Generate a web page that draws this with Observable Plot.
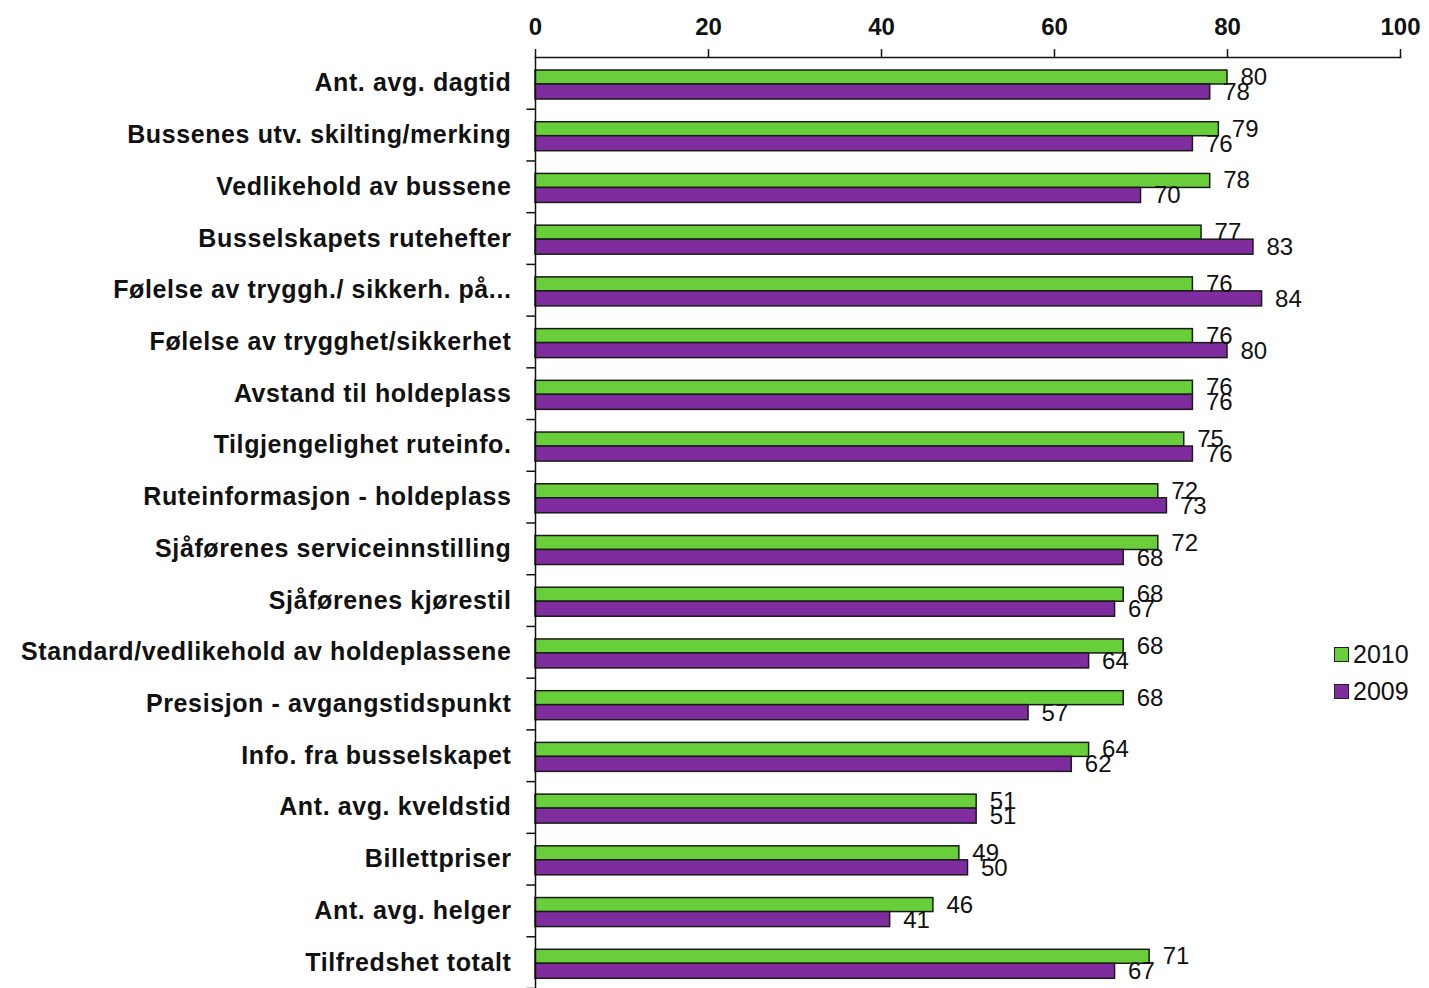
<!DOCTYPE html>
<html>
<head>
<meta charset="utf-8">
<script src="https://cdn.jsdelivr.net/npm/d3@7"></script>
<script src="https://cdn.jsdelivr.net/npm/@observablehq/plot@0.6"></script>
<style>
  html, body { margin: 0; padding: 0; background: #fff; }
  #wrap { position: relative; width: 1429px; height: 988px; overflow: hidden; }
  .legend { position: absolute; left: 1334px; font-family: "Liberation Sans", Arial, sans-serif; font-size: 25px; color: #111; display: flex; align-items: center; }
  .legend .sw { width: 13px; height: 13px; border: 1.5px solid #222; margin-right: 4px; }
</style>
</head>
<body>
<div id="wrap"></div>
<script>
const categories = [
  "Ant. avg. dagtid",
  "Bussenes utv. skilting/merking",
  "Vedlikehold av bussene",
  "Busselskapets rutehefter",
  "Følelse av tryggh./ sikkerh. på...",
  "Følelse av trygghet/sikkerhet",
  "Avstand til holdeplass",
  "Tilgjengelighet ruteinfo.",
  "Ruteinformasjon - holdeplass",
  "Sjåførenes serviceinnstilling",
  "Sjåførenes kjørestil",
  "Standard/vedlikehold av holdeplassene",
  "Presisjon - avgangstidspunkt",
  "Info. fra busselskapet",
  "Ant. avg. kveldstid",
  "Billettpriser",
  "Ant. avg. helger",
  "Tilfredshet totalt"
];
const values2010 = [80, 79, 78, 77, 76, 76, 76, 75, 72, 72, 68, 68, 68, 64, 51, 49, 46, 71];
const values2009 = [78, 76, 70, 83, 84, 80, 76, 76, 73, 68, 67, 64, 57, 62, 51, 50, 41, 67];
const seriesNames = ["2010", "2009"];
const xTicks = [0, 20, 40, 60, 80, 100];

const green = "#68cf3a";
const purple = "#7f2d9e";

const d2010 = categories.map((c, i) => ({cat: c, v: values2010[i]}));
const d2009 = categories.map((c, i) => ({cat: c, v: values2009[i]}));

const W = 1429, H = 988, mt = 57, mb = 0;
const bw = (H - mt - mb) / categories.length;
const font = "Liberation Sans, Arial, sans-serif";

const chart = Plot.plot({
  width: W,
  height: H,
  marginTop: mt,
  marginBottom: mb,
  marginLeft: 535,
  marginRight: 29,
  style: {fontFamily: font, fontSize: "24px", color: "#111", background: "#fff", overflow: "visible"},
  x: {domain: [0, 100]},
  y: {domain: categories, padding: 0, round: false},
  marks: [
    Plot.barX(d2010, {y: "cat", x: "v", fill: green, stroke: "#1a1a1a", strokeWidth: 1.5, insetTop: 13, insetBottom: bw - 27}),
    Plot.barX(d2009, {y: "cat", x: "v", fill: purple, stroke: "#1a1a1a", strokeWidth: 1.5, insetTop: 27, insetBottom: bw - 42}),
    Plot.text(d2010, {y: "cat", x: "v", text: d => String(d.v), textAnchor: "start", dx: 13, dy: -6, fontSize: 24, fill: "#111"}),
    Plot.text(d2009, {y: "cat", x: "v", text: d => String(d.v), textAnchor: "start", dx: 13, dy: 9, fontSize: 24, fill: "#111"}),
    Plot.ruleX([0], {stroke: "#111", strokeWidth: 1.5}),
    Plot.frame({anchor: "top", stroke: "#111", strokeWidth: 1.5}),
    Plot.ruleY(categories, {y: d => d, x1: -1, x2: 0, dy: bw / 2, stroke: "#111", strokeWidth: 1.5}),
    Plot.axisX({anchor: "top", ticks: xTicks, tickSize: 9, tickPadding: 14, fontSize: 24, fontWeight: "bold", label: null, stroke: "#111", strokeWidth: 1.5}),
    Plot.axisY({tickSize: 0, tickPadding: 24, fontSize: 25, fontWeight: "bold", letterSpacing: 0.6, label: null})
  ]
});

const wrap = document.getElementById("wrap");
wrap.appendChild(chart);
chart.querySelectorAll("g[aria-label='y-axis tick label'] text").forEach(t => t.setAttribute("letter-spacing", "0.6"));

const legendColors = [green, purple];
const legendTops = [640, 677];
seriesNames.forEach((name, i) => {
  const div = document.createElement("div");
  div.className = "legend";
  div.style.top = legendTops[i] + "px";
  const sw = document.createElement("span");
  sw.className = "sw";
  sw.style.background = legendColors[i];
  div.appendChild(sw);
  const t = document.createElement("span");
  t.textContent = name;
  div.appendChild(t);
  wrap.appendChild(div);
});
</script>
</body>
</html>
